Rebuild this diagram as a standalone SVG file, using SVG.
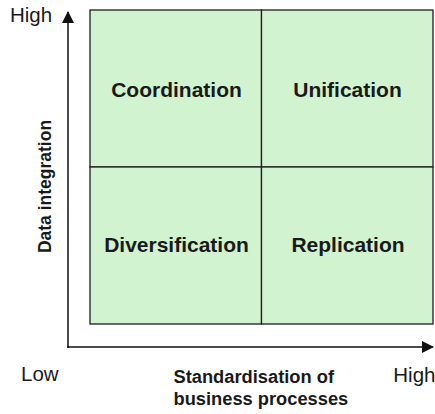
<svg xmlns="http://www.w3.org/2000/svg" width="435" height="414" viewBox="0 0 435 414">
<style>
.q{font-family:"Liberation Sans",Arial,sans-serif;font-weight:bold;font-size:21px;fill:#1a1a1a;text-anchor:middle}
.ax{font-family:"Liberation Sans",Arial,sans-serif;font-weight:bold;font-size:18.3px;fill:#1a1a1a}
.lv{font-family:"Liberation Sans",Arial,sans-serif;font-size:20.5px;fill:#1a1a1a}
.cell{fill:#d2f3d0;stroke:#1e1e1e;stroke-width:1.3}
</style>
<defs>
<marker id="ah" markerWidth="12" markerHeight="12" refX="11" refY="6" orient="auto" markerUnits="userSpaceOnUse">
<path d="M0,0 L12,6 L0,12 Z" fill="#111"/>
</marker>
</defs>
<g id="connectors">
<line x1="68" y1="348" x2="68" y2="12" stroke="#111" stroke-width="1.5" marker-end="url(#ah)"/>
<line x1="67.3" y1="347" x2="433" y2="347" stroke="#111" stroke-width="1.5" marker-end="url(#ah)"/>
</g>
<g id="coordination"><rect class="cell" x="90" y="10" width="171.5" height="157"/><text class="q" x="176.5" y="96.5">Coordination</text></g>
<g id="unification"><rect class="cell" x="261.5" y="10" width="171.5" height="157"/><text class="q" x="347.5" y="96.5">Unification</text></g>
<g id="diversification"><rect class="cell" x="90" y="167" width="171.5" height="157"/><text class="q" x="176.5" y="252">Diversification</text></g>
<g id="replication"><rect class="cell" x="261.5" y="167" width="171.5" height="157"/><text class="q" x="348" y="252">Replication</text></g>
<g id="labels">
<text class="lv" x="10" y="21.7">High</text>
<text class="lv" x="21" y="381">Low</text>
<text class="lv" x="393.3" y="381.5">High</text>
<text class="ax" x="173.5" y="383.3">Standardisation of</text>
<text class="ax" x="173.5" y="405">business processes</text>
<text class="ax" style="font-size:17.5px;text-anchor:middle" transform="translate(50.5,186.5) rotate(-90)">Data integration</text>
</g>
</svg>
